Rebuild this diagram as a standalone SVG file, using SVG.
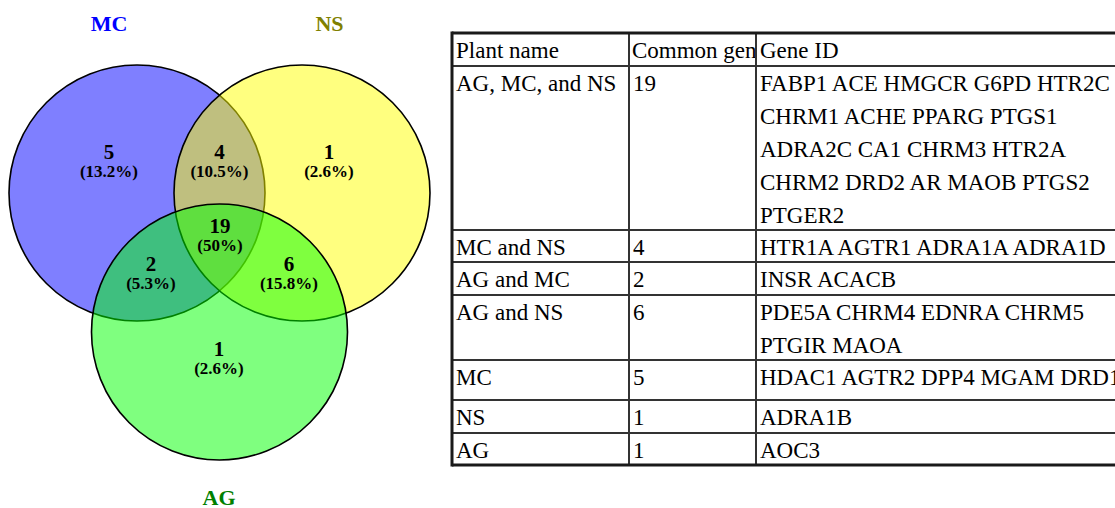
<svg xmlns="http://www.w3.org/2000/svg" width="1115" height="508" viewBox="0 0 1115 508">
<style>
.set{stroke:#000;stroke-width:1.6;fill-opacity:0.5}
.lab{font-family:'Liberation Serif','DejaVu Serif',serif;font-weight:bold;font-size:22px;text-anchor:middle}
.num{font-family:'Liberation Serif','DejaVu Serif',serif;font-weight:bold;font-size:21px;text-anchor:middle;fill:#000}
.pct{font-family:'Liberation Serif','DejaVu Serif',serif;font-weight:bold;font-size:17px;text-anchor:middle;fill:#000}
.cell{font-family:'Liberation Serif','DejaVu Serif',serif;font-size:23px;fill:#000}
.outer{stroke:#1a1a1a;stroke-width:3;fill:none}
.inner{stroke:#333;stroke-width:2;fill:none}
</style>
<defs>
<clipPath id="col2"><rect x="629" y="33" width="126" height="433"/></clipPath>
</defs>
<rect width="1115" height="508" fill="#fff"/>
<g id="venn">
<g id="set-MC"><circle class="set" cx="137" cy="193" r="128" fill="#0000ff"/></g>
<g id="set-NS"><circle class="set" cx="302" cy="193" r="128" fill="#ffff00"/></g>
<g id="set-AG"><circle class="set" cx="219.5" cy="332" r="128" fill="#00ff00"/></g>
<g id="set-labels">
<text class="lab" x="109" y="31" fill="#0000ff">MC</text>
<text class="lab" x="329.5" y="31" fill="#808000">NS</text>
<text class="lab" x="219" y="505" fill="#008000">AG</text>
</g>
<g id="region-MC"><text class="num" x="109" y="159">5</text><text class="pct" x="109" y="177">(13.2%)</text></g>
<g id="region-MC-NS"><text class="num" x="219.5" y="159">4</text><text class="pct" x="219.5" y="177">(10.5%)</text></g>
<g id="region-NS"><text class="num" x="329" y="159">1</text><text class="pct" x="329" y="177">(2.6%)</text></g>
<g id="region-all"><text class="num" x="220" y="233">19</text><text class="pct" x="220" y="251">(50%)</text></g>
<g id="region-MC-AG"><text class="num" x="151" y="271">2</text><text class="pct" x="151" y="289">(5.3%)</text></g>
<g id="region-NS-AG"><text class="num" x="289" y="271">6</text><text class="pct" x="289" y="289">(15.8%)</text></g>
<g id="region-AG"><text class="num" x="219" y="356">1</text><text class="pct" x="219" y="374">(2.6%)</text></g>
</g>
<g id="table">
<g id="grid">
<line class="inner" x1="452" y1="66" x2="1115" y2="66"/>
<line class="inner" x1="452" y1="230" x2="1115" y2="230"/>
<line class="inner" x1="452" y1="262" x2="1115" y2="262"/>
<line class="inner" x1="452" y1="295" x2="1115" y2="295"/>
<line class="inner" x1="452" y1="360" x2="1115" y2="360"/>
<line class="inner" x1="452" y1="400" x2="1115" y2="400"/>
<line class="inner" x1="452" y1="433" x2="1115" y2="433"/>
<line class="inner" x1="629" y1="33" x2="629" y2="465"/>
<line class="inner" x1="756" y1="33" x2="756" y2="465"/>
<line class="outer" x1="452" y1="33" x2="1115" y2="33"/>
<line class="outer" x1="452" y1="465" x2="1115" y2="465"/>
<line class="outer" x1="452" y1="31.5" x2="452" y2="466.5"/>
</g>
<g id="col-plant">
<text class="cell" x="456" y="58">Plant name</text>
<text class="cell" x="456" y="91">AG, MC, and NS</text>
<text class="cell" x="456" y="255">MC and NS</text>
<text class="cell" x="456" y="287">AG and MC</text>
<text class="cell" x="456" y="320">AG and NS</text>
<text class="cell" x="456" y="385">MC</text>
<text class="cell" x="456" y="425">NS</text>
<text class="cell" x="456" y="458">AG</text>
</g>
<g id="col-count" clip-path="url(#col2)">
<text class="cell" x="632" y="58">Common gen</text>
<text class="cell" x="633" y="91">19</text>
<text class="cell" x="633" y="255">4</text>
<text class="cell" x="633" y="287">2</text>
<text class="cell" x="633" y="320">6</text>
<text class="cell" x="633" y="385">5</text>
<text class="cell" x="633" y="425">1</text>
<text class="cell" x="633" y="458">1</text>
</g>
<g id="col-genes">
<text class="cell" x="760" y="58">Gene ID</text>
<text class="cell" x="760" y="91">FABP1 ACE HMGCR G6PD HTR2C</text>
<text class="cell" x="760" y="124">CHRM1 ACHE PPARG PTGS1</text>
<text class="cell" x="760" y="157">ADRA2C CA1 CHRM3 HTR2A</text>
<text class="cell" x="760" y="190">CHRM2 DRD2 AR MAOB PTGS2</text>
<text class="cell" x="760" y="223">PTGER2</text>
<text class="cell" x="760" y="255">HTR1A AGTR1 ADRA1A ADRA1D</text>
<text class="cell" x="760" y="287">INSR ACACB</text>
<text class="cell" x="760" y="320">PDE5A CHRM4 EDNRA CHRM5</text>
<text class="cell" x="760" y="353">PTGIR MAOA</text>
<text class="cell" x="760" y="385">HDAC1 AGTR2 DPP4 MGAM DRD1</text>
<text class="cell" x="760" y="425">ADRA1B</text>
<text class="cell" x="760" y="458">AOC3</text>
</g>
</g>
</svg>
